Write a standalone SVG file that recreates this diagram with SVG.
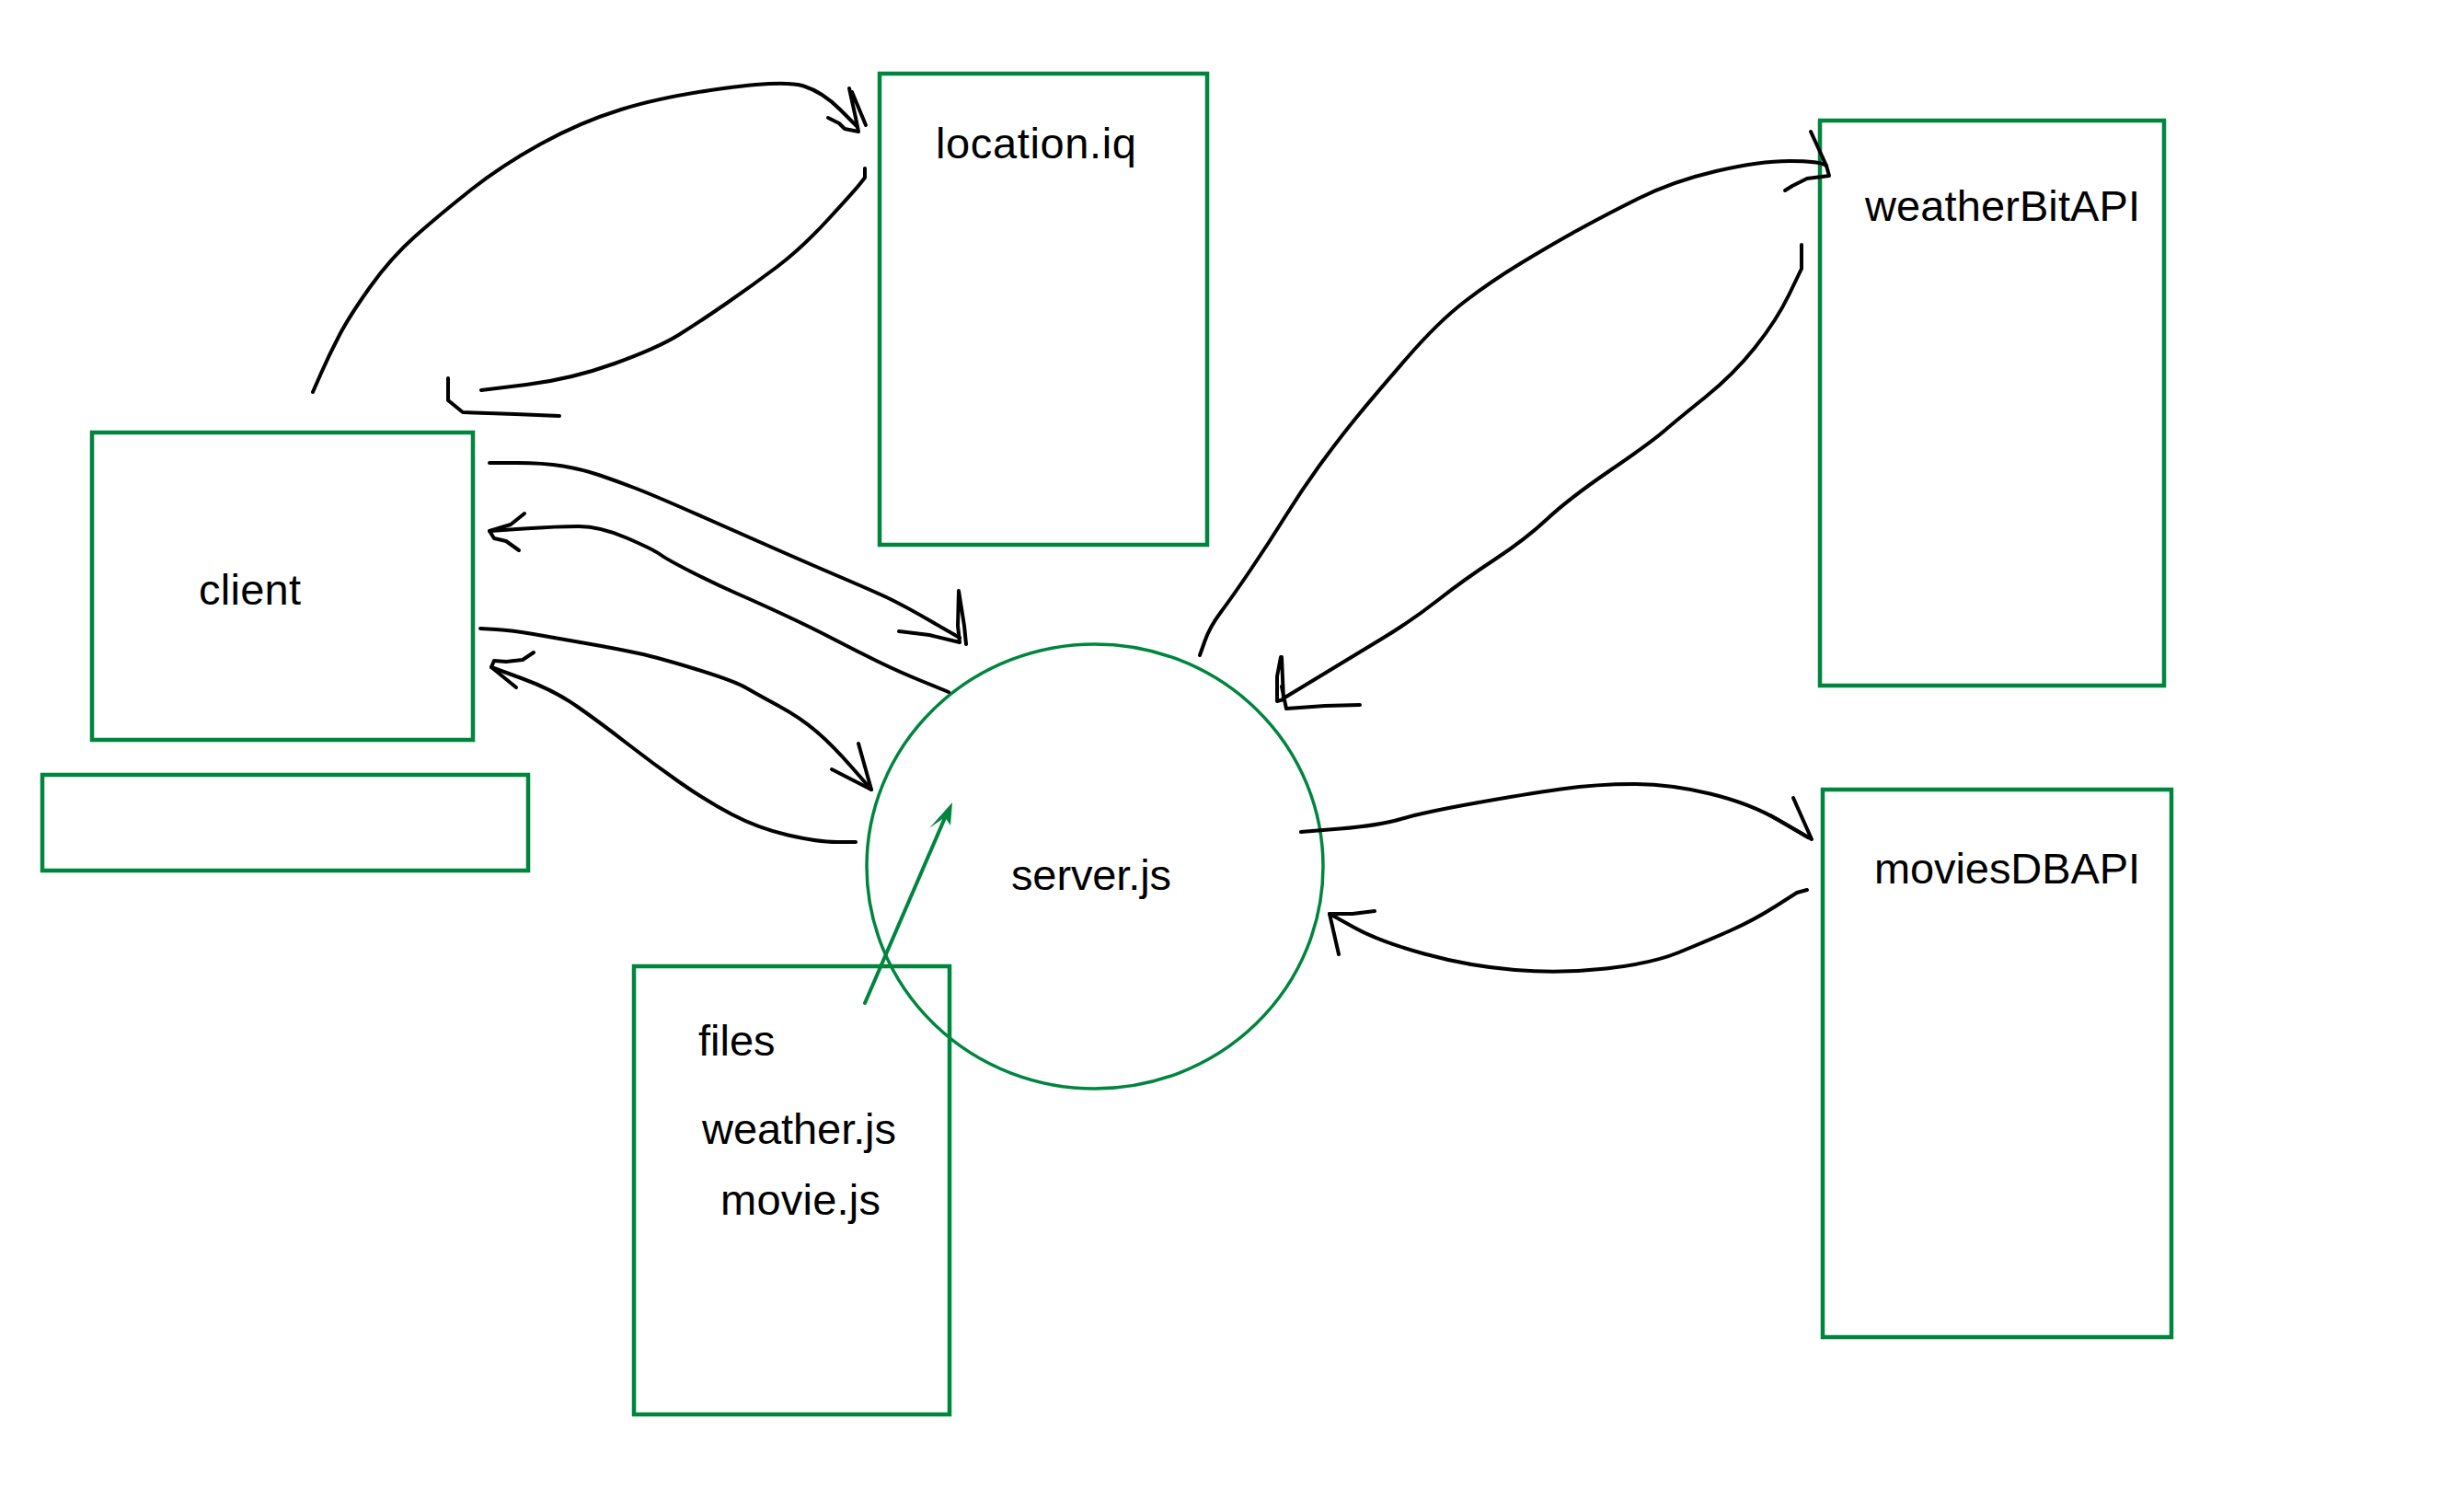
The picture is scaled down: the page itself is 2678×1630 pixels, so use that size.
<svg xmlns="http://www.w3.org/2000/svg" width="2678" height="1630" viewBox="0 0 2678 1630">
<style>
.box{fill:none;stroke:#00853e;stroke-width:4.5}
.circ{fill:none;stroke:#00853e;stroke-width:3.5}
.lbl{font-family:"Liberation Sans",Arial,Helvetica,sans-serif;font-size:47px;fill:#000}
.ink{fill:none;stroke:#000;stroke-width:4;stroke-linecap:round;stroke-linejoin:round}
.gink{fill:none;stroke:#00853e;stroke-width:4;stroke-linecap:round}
</style>
<rect width="2678" height="1630" fill="#fff"/>
<g id="client"><rect class="box" x="100" y="470" width="414" height="334"/><text class="lbl" x="216" y="657" textLength="111">client</text></g>
<g id="blank-box"><rect class="box" x="46" y="842" width="528" height="104"/></g>
<g id="location-iq"><rect class="box" x="956" y="80" width="356" height="512"/><text class="lbl" x="1017" y="172" font-size="48" textLength="218">location.iq</text></g>
<g id="weatherBitAPI"><rect class="box" x="1978" y="131" width="374" height="614"/><text class="lbl" x="2027" y="240" textLength="299">weatherBitAPI</text></g>
<g id="moviesDBAPI"><rect class="box" x="1981" y="858" width="379" height="595"/><text class="lbl" x="2037" y="960" textLength="289">moviesDBAPI</text></g>
<g id="server"><ellipse class="circ" cx="1190" cy="941.5" rx="248" ry="241.5"/><text class="lbl" x="1099" y="967" textLength="174">server.js</text></g>
<g id="files"><rect class="box" x="689" y="1050" width="343" height="487"/><text class="lbl" x="759" y="1147">files</text><text class="lbl" x="763" y="1243" textLength="211">weather.js</text><text class="lbl" x="783" y="1320" textLength="174">movie.js</text></g>
<g id="connectors">
<path class="ink" d="M340,426 L349,405.5 Q358,385 369,364 Q380,343 402.5,311.5 Q425,280 451.5,256.5 Q478,233 511.5,206.5 Q545,180 587.5,156.5 Q630,133 675,119 Q720,105 786.5,96 Q853,87 873.5,93.5 Q894,100 913,119 L932,138"/>
<path class="ink" d="M923,96 L930,128 L933,143 M926,100 L941,136 M900,128 L912,134 L918,140 L933,143"/>
<path class="ink" d="M940,183 L940,193 L934.5,200 Q929,207 900,238.5 Q871,270 844.5,290 Q818,310 789,330 Q760,350 737.5,364 Q715,378 668,395 Q621,412 572,418 L523,424"/>
<path class="ink" d="M487,411 L487,435 L503,448 L560,450 L608,452"/>
<path class="ink" d="M532,503 L561.5,503 Q591,503 612,506.5 Q633,510 652,516.5 Q671,523 690.5,530.5 Q710,538 752,556.5 Q794,575 836,593.5 Q878,612 908.5,625 Q939,638 958,646.5 Q977,655 1010,674 L1043,693"/>
<path class="ink" d="M1042,642 L1048,680 L1050,700 M1042,642 L1041,680 L1043,698 M977,686 L1010,690 L1043,698"/>
<path class="ink" d="M1031,752 L1004,741 Q977,730 954.5,719 Q932,708 907,695 Q882,682 853,668.5 Q824,655 801,645 Q778,635 751.5,621.5 Q725,608 717.5,602.5 Q710,597 681,584.5 Q652,572 629,572 Q606,572 569,574.5 L532,577"/>
<path class="ink" d="M570,558 L555,570 L532,577 L537,585 L550,588 L564,598"/>
<path class="ink" d="M522,683 L539.5,684 Q557,685 579.5,689 Q602,693 636.5,699 Q671,705 694,710 Q717,715 757.5,727.5 Q798,740 811,747.5 Q824,755 847,767.5 Q870,780 887.5,795 Q905,810 926,834 L947,858"/>
<path class="ink" d="M933,808 L947,858 M904,836 L947,858"/>
<path class="ink" d="M930,915 L909.5,915 Q889,915 856.5,907.5 Q824,900 795.5,885 Q767,870 738.5,850 Q710,830 681,807.5 Q652,785 627,767.5 Q602,750 568,737.5 L534,725"/>
<path class="ink" d="M580,709 L568,717 L550,719 L537,718 L534,725 L561,747"/>
<path class="ink" d="M1304,712 L1309.5,696.5 Q1315,681 1327,665 Q1339,649 1359,619.5 Q1379,590 1398,559.5 Q1417,529 1438,500.5 Q1459,472 1478,449 Q1497,426 1530,388 Q1563,350 1591.5,328 Q1620,306 1653,286 Q1686,266 1714,250.5 Q1742,235 1780,216 Q1818,197 1865,186 Q1912,175 1945,175 Q1978,175 1985,180"/>
<path class="ink" d="M1968,143 L1985,180 L1988,191 L1964,194 L1948,202 L1940,207"/>
<path class="ink" d="M1958,266 L1958,292 L1944.5,320 Q1931,348 1907.5,377.5 Q1884,407 1853.5,431.5 Q1823,456 1808.5,468.5 Q1794,481 1749.5,511.5 Q1705,542 1681.5,564 Q1658,586 1624.5,608 Q1591,630 1563,652 Q1535,674 1502,694 Q1469,714 1433.5,735.5 L1398,757"/>
<path class="ink" d="M1392,714 L1388,735 L1388,762 L1395,760 L1393,714 M1393,746 L1398,770 L1440,767 L1478,766"/>
<path class="ink" d="M1414,904 L1456.5,900.5 Q1499,897 1522.5,890 Q1546,883 1601.5,873 Q1657,863 1696.5,857.5 Q1736,852 1775.5,852 Q1815,852 1858.5,862.5 Q1902,873 1933.5,891.5 L1965,910"/>
<path class="ink" d="M1949,867 L1969,912 M1924,886 L1945,898 L1969,912"/>
<path class="ink" d="M1964,967 L1953,970 L1929.5,985 Q1906,1000 1880,1011.5 Q1854,1023 1824.5,1035 Q1795,1047 1745.5,1052.5 Q1696,1058 1646.5,1054 Q1597,1050 1548,1036.5 Q1499,1023 1472,1008 L1445,993"/>
<path class="ink" d="M1494,990 L1470,993 L1445,993 L1455,1037"/>
<path class="gink" d="M940,1090 L1029,884"/>
<polygon points="1035,872 1010,900 1027,888 1033,897" fill="#00853e"/>
</g>
</svg>
